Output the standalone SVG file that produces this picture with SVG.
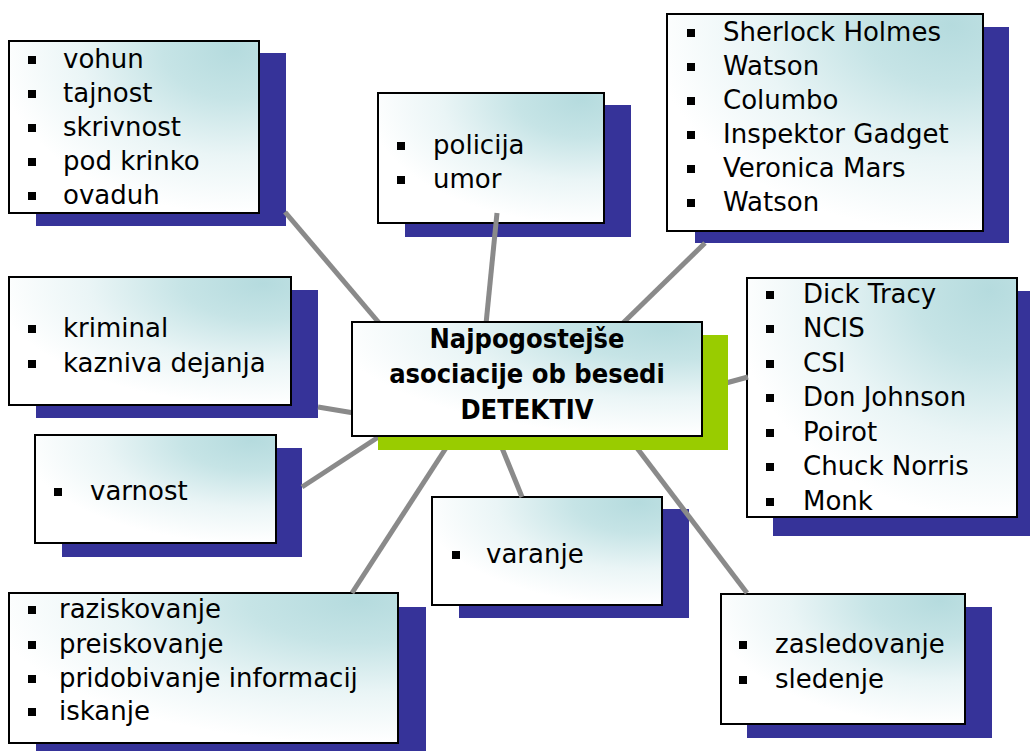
<svg xmlns="http://www.w3.org/2000/svg" width="1030" height="751" viewBox="0 0 1030 751">
<defs>
<radialGradient id="bg" cx="0.9" cy="0.05" r="0.95">
<stop offset="0" stop-color="#b5dbde"/>
<stop offset="0.3" stop-color="#c6e4e6"/>
<stop offset="0.65" stop-color="#eaf5f6"/>
<stop offset="1" stop-color="#ffffff"/>
</radialGradient>
</defs>
<style>
.sh{fill:#363399}
.gr{fill:#99cc00}
.bx{fill:url(#bg);stroke:#000;stroke-width:2}
.t{font-family:"DejaVu Sans","Liberation Sans",sans-serif;font-size:26px;fill:#000}
.h{font-family:"DejaVu Sans Condensed","DejaVu Sans","Liberation Sans",sans-serif;font-weight:bold;font-size:27px;fill:#000;text-anchor:middle}
.b{fill:#000}
.c line{stroke:#8a8a8a;stroke-width:5}
</style>
<rect width="1030" height="751" fill="#fff"/>

<g id="n-vohun">
<rect class="sh" x="36" y="53" width="250" height="173"/>
<rect class="bx" x="9" y="41" width="250" height="172"/>
<rect class="b" x="28" y="56" width="8" height="8"/><text class="t" x="63" y="68">vohun</text>
<rect class="b" x="28" y="90" width="8" height="8"/><text class="t" x="63" y="102">tajnost</text>
<rect class="b" x="28" y="124" width="8" height="8"/><text class="t" x="63" y="136">skrivnost</text>
<rect class="b" x="28" y="158" width="8" height="8"/><text class="t" x="63" y="170">pod krinko</text>
<rect class="b" x="28" y="192" width="8" height="8"/><text class="t" x="63" y="204">ovaduh</text>
</g>

<g id="n-policija">
<rect class="sh" x="405" y="105" width="226" height="132"/>
<rect class="bx" x="378" y="93" width="226" height="130"/>
<rect class="b" x="397" y="142" width="8" height="8"/><text class="t" x="433" y="154">policija</text>
<rect class="b" x="397" y="176" width="8" height="8"/><text class="t" x="433" y="188">umor</text>
</g>

<g id="n-sherlock">
<rect class="sh" x="695" y="27" width="314" height="216"/>
<rect class="bx" x="667" y="14" width="316" height="217"/>
<rect class="b" x="687" y="29" width="8" height="8"/><text class="t" x="723" y="41">Sherlock Holmes</text>
<rect class="b" x="687" y="63" width="8" height="8"/><text class="t" x="723" y="75">Watson</text>
<rect class="b" x="687" y="97" width="8" height="8"/><text class="t" x="723" y="109">Columbo</text>
<rect class="b" x="687" y="131" width="8" height="8"/><text class="t" x="723" y="143">Inspektor Gadget</text>
<rect class="b" x="687" y="165" width="8" height="8"/><text class="t" x="723" y="177">Veronica Mars</text>
<rect class="b" x="687" y="199" width="8" height="8"/><text class="t" x="723" y="211">Watson</text>
</g>

<g id="n-kriminal">
<rect class="sh" x="36" y="290" width="282" height="128"/>
<rect class="bx" x="9" y="277" width="282" height="128"/>
<rect class="b" x="28" y="325" width="8" height="8"/><text class="t" x="63" y="337">kriminal</text>
<rect class="b" x="28" y="360" width="8" height="8"/><text class="t" x="63" y="372">kazniva dejanja</text>
</g>

<g id="n-dick">
<rect class="sh" x="773" y="291" width="270" height="245"/>
<rect class="bx" x="747" y="278" width="270" height="239"/>
<rect class="b" x="766" y="291" width="8" height="8"/><text class="t" x="803" y="303">Dick Tracy</text>
<rect class="b" x="766" y="325" width="8" height="8"/><text class="t" x="803" y="337">NCIS</text>
<rect class="b" x="766" y="360" width="8" height="8"/><text class="t" x="803" y="372">CSI</text>
<rect class="b" x="766" y="394" width="8" height="8"/><text class="t" x="803" y="406">Don Johnson</text>
<rect class="b" x="766" y="429" width="8" height="8"/><text class="t" x="803" y="441">Poirot</text>
<rect class="b" x="766" y="463" width="8" height="8"/><text class="t" x="803" y="475">Chuck Norris</text>
<rect class="b" x="766" y="498" width="8" height="8"/><text class="t" x="803" y="510">Monk</text>
</g>

<g id="n-varnost">
<rect class="sh" x="62" y="448" width="240" height="109"/>
<rect class="bx" x="35" y="435" width="241" height="108"/>
<rect class="b" x="54" y="488" width="8" height="8"/><text class="t" x="90" y="500">varnost</text>
</g>

<g id="n-varanje">
<rect class="sh" x="459" y="509" width="230" height="109"/>
<rect class="bx" x="432" y="497" width="230" height="108"/>
<rect class="b" x="452" y="551" width="8" height="8"/><text class="t" x="486" y="563">varanje</text>
</g>

<g id="n-raziskovanje">
<rect class="sh" x="36" y="607" width="390" height="150"/>
<rect class="bx" x="9" y="593" width="389" height="150"/>
<rect class="b" x="28" y="606" width="8" height="8"/><text class="t" x="59" y="618">raziskovanje</text>
<rect class="b" x="28" y="641" width="8" height="8"/><text class="t" x="59" y="653">preiskovanje</text>
<rect class="b" x="28" y="675" width="8" height="8"/><text class="t" x="59" y="687">pridobivanje informacij</text>
<rect class="b" x="28" y="708" width="8" height="8"/><text class="t" x="59" y="720">iskanje</text>
</g>

<g id="n-zasledovanje">
<rect class="sh" x="747" y="607" width="245" height="131"/>
<rect class="bx" x="721" y="594" width="244" height="130"/>
<rect class="b" x="739" y="641" width="8" height="8"/><text class="t" x="775" y="653">zasledovanje</text>
<rect class="b" x="739" y="676" width="8" height="8"/><text class="t" x="775" y="688">sledenje</text>
</g>

<g id="connectors" class="c">
<line x1="285" y1="212" x2="380" y2="324"/>
<line x1="497" y1="213" x2="486" y2="324"/>
<line x1="705" y1="243" x2="622" y2="324"/>
<line x1="748" y1="377" x2="726" y2="383"/>
<line x1="318" y1="407" x2="354" y2="413"/>
<line x1="302" y1="487" x2="380" y2="436"/>
<line x1="352" y1="593" x2="446" y2="448"/>
<line x1="522" y1="497" x2="502" y2="448"/>
<line x1="747" y1="593" x2="637" y2="448"/>
</g>

<g id="n-center">
<rect class="gr" x="378" y="335" width="350" height="115"/>
<rect class="bx" x="352" y="322" width="350" height="114"/>
<text class="h" x="527" y="348">Najpogostejše</text>
<text class="h" x="527" y="383">asociacije ob besedi</text>
<text class="h" x="527" y="419">DETEKTIV</text>
</g>
</svg>
